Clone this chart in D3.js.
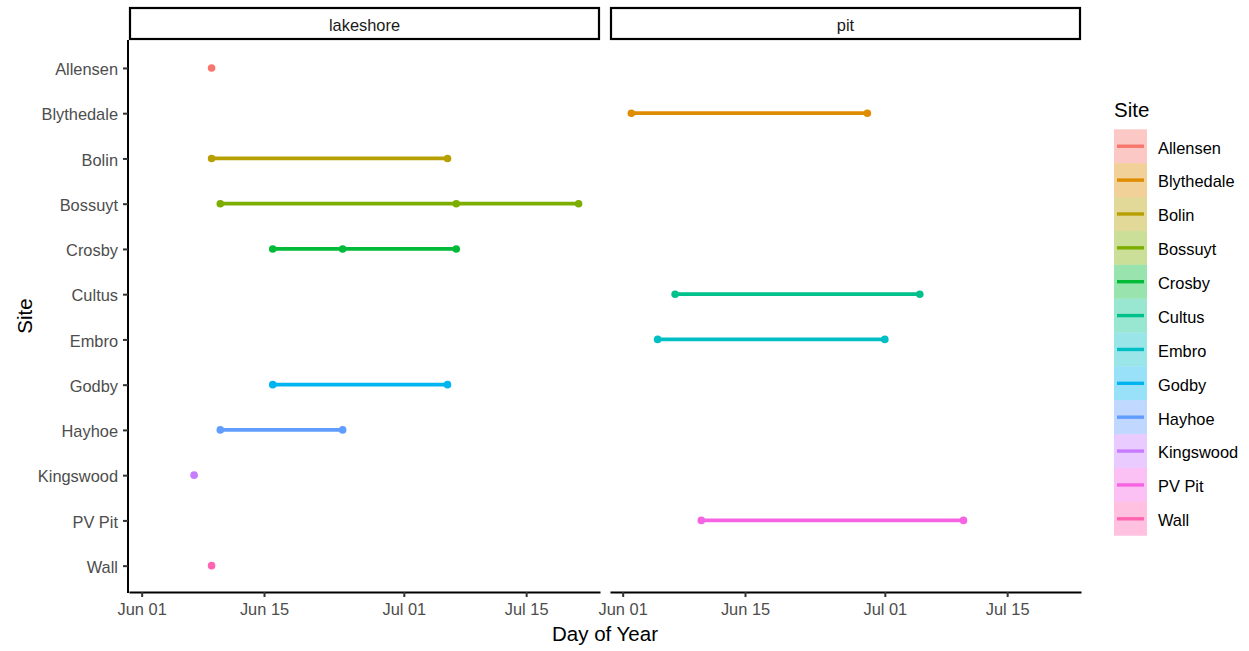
<!DOCTYPE html>
<html>
<head>
<meta charset="utf-8">
<script src="https://cdn.jsdelivr.net/npm/d3@7"></script>
<style>
  html, body { margin: 0; padding: 0; background: #ffffff; }
  svg { display: block; font-family: "Liberation Sans", Arial, sans-serif; }
</style>
</head>
<body>
<svg id="chart" width="1249" height="651"></svg>
<script>
// ---------- data ----------
const sites = ["Allensen","Blythedale","Bolin","Bossuyt","Crosby","Cultus","Embro","Godby","Hayhoe","Kingswood","PV Pit","Wall"];
const habitat = ["lakeshore","pit","lakeshore","lakeshore","lakeshore","pit","pit","lakeshore","lakeshore","lakeshore","pit","lakeshore"];
const surveyDates = [
  ["06-09"],
  ["06-02","06-29"],
  ["06-09","07-06"],
  ["06-10","07-07","07-21"],
  ["06-16","06-24","07-07"],
  ["06-07","07-05"],
  ["06-05","07-01"],
  ["06-16","07-06"],
  ["06-10","06-24"],
  ["06-07"],
  ["06-10","07-10"],
  ["06-09"]
];
const panels = ["lakeshore","pit"];
const tickLabels = ["06-01","06-15","07-01","07-15"];
const siteColors = ["#F8766D","#DE8C00","#B79F00","#7CAE00","#00BA38","#00C08B","#00BFC4","#00B4F0","#619CFF","#C77CFF","#F564E3","#FF64B0"];
const xTitle = "Day of Year";
const yTitle = "Site";
const legendTitle = "Site";

// ---------- helpers ----------
const parseMD = s => { const [m, d] = s.split("-").map(Number); return new Date(2021, m - 1, d); };
const records = sites.map((s, i) => ({ site: s, panel: habitat[i], dates: surveyDates[i].map(parseMD) }));

// ---------- layout ----------
const svg = d3.select("#chart");
const panelX = [129, 610];
const panelW = 471;
const panelTop = 40, panelBottom = 592;
const stripTop = 7;

const allDates = records.flatMap(r => r.dates);
const dMin = d3.min(allDates), dMax = d3.max(allDates);
const span = dMax - dMin;
const x = d3.scaleTime()
  .domain([new Date(+dMin - 0.05 * span), new Date(+dMax + 0.05 * span)])
  .range([0, panelW]);
const y = d3.scalePoint().domain(sites).range([panelTop + 0.8, panelBottom + 0.8]).padding(0.6);
const color = d3.scaleOrdinal().domain(sites).range(siteColors);

const tickFont = 16.4, titleFont = 20.5;

panels.forEach((p, pi) => {
  const g = svg.append("g").attr("transform", `translate(${panelX[pi]},0)`);

  // strip
  g.append("rect")
    .attr("x", 1).attr("y", stripTop + 1)
    .attr("width", panelW - 2).attr("height", panelTop - stripTop - 2)
    .attr("fill", "#ffffff").attr("stroke", "#000000").attr("stroke-width", 2.2);
  g.append("text")
    .attr("x", panelW / 2).attr("y", 31.2)
    .attr("text-anchor", "middle")
    .attr("font-size", tickFont).attr("fill", "#1A1A1A")
    .text(p);

  // data
  const line = d3.line().x(d => x(d)).y(0);
  const recs = records.filter(r => r.panel === p);
  recs.forEach(r => {
    const rg = g.append("g").attr("transform", `translate(0,${y(r.site)})`);
    if (r.dates.length > 1) {
      rg.append("path")
        .attr("d", line(r.dates.slice().sort((a, b) => a - b)))
        .attr("fill", "none").attr("stroke", color(r.site))
        .attr("stroke-width", 3.7);
    }
    rg.selectAll("circle").data(r.dates).join("circle")
      .attr("cx", d => x(d)).attr("cy", 0).attr("r", 3.8)
      .attr("fill", color(r.site));
  });

  // x axis
  const xAxis = d3.axisBottom(x)
    .tickValues(tickLabels.map(parseMD))
    .tickFormat(d3.timeFormat("%b %d"))
    .tickSize(5).tickPadding(6).tickSizeOuter(0);
  const ax = g.append("g").attr("transform", `translate(0,${panelBottom})`).call(xAxis);
  ax.select(".domain").attr("stroke", "#000000").attr("stroke-width", 2);
  ax.selectAll(".tick line").attr("stroke", "#333333").attr("stroke-width", 2);
  ax.selectAll(".tick text").attr("font-size", tickFont).attr("fill", "#4D4D4D")
    .attr("font-family", "Liberation Sans, Arial, sans-serif");

  // y axis on first panel only
  if (pi === 0) {
    const yAxis = d3.axisLeft(y).tickSize(5).tickPadding(5).tickSizeOuter(0);
    const ay = g.append("g").attr("transform", "translate(-1,0)").call(yAxis);
    ay.select(".domain").attr("d", `M0,${panelTop}V${panelBottom + 1}`)
      .attr("stroke", "#000000").attr("stroke-width", 2);
    ay.selectAll(".tick line").attr("stroke", "#333333").attr("stroke-width", 2);
    ay.selectAll(".tick text").attr("font-size", tickFont).attr("fill", "#4D4D4D")
      .attr("dy", "0.41em")
      .attr("font-family", "Liberation Sans, Arial, sans-serif");
  }
});

// axis titles
svg.append("text")
  .attr("x", (panelX[0] + panelX[1] + panelW) / 2).attr("y", 641)
  .attr("text-anchor", "middle").attr("font-size", titleFont).attr("fill", "#000000")
  .text(xTitle);
svg.append("text")
  .attr("transform", `translate(31.5,${(panelTop + panelBottom) / 2}) rotate(-90)`)
  .attr("text-anchor", "middle").attr("font-size", titleFont).attr("fill", "#000000")
  .text(yTitle);

// legend
const lg = svg.append("g").attr("transform", "translate(1114,0)");
lg.append("text").attr("x", 0).attr("y", 117)
  .attr("font-size", titleFont).attr("fill", "#000000").text(legendTitle);
const keyH = 33.87, keyW = 33, keyTop = 129.3;
const items = lg.selectAll("g.item").data(sites).join("g")
  .attr("class", "item")
  .attr("transform", (d, i) => `translate(0,${keyTop + i * keyH})`);
items.append("rect")
  .attr("x", 0).attr("y", 0).attr("width", keyW).attr("height", keyH)
  .attr("fill", d => color(d)).attr("fill-opacity", 0.4);
items.append("line")
  .attr("x1", 3).attr("x2", keyW - 3)
  .attr("y1", keyH / 2).attr("y2", keyH / 2)
  .attr("stroke", d => color(d)).attr("stroke-width", 3.4);
items.append("text")
  .attr("x", 44).attr("y", keyH / 2 + 1.6).attr("dy", "0.35em")
  .attr("font-size", tickFont).attr("fill", "#000000")
  .text(d => d);
</script>
</body>
</html>
